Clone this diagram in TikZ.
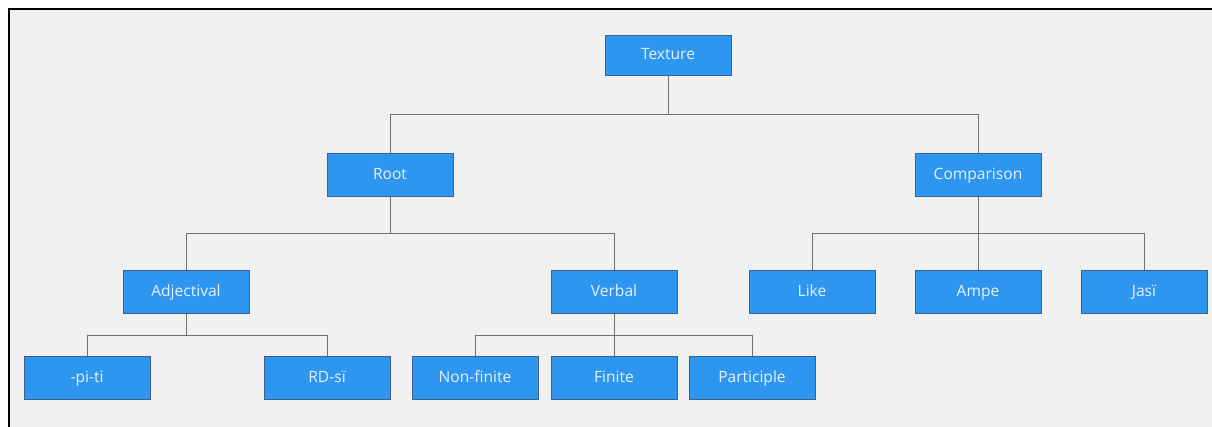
\documentclass[tikz,border=0pt]{standalone}
\usepackage{fontspec}
\setmainfont{Open Sans}
\definecolor{boxblue}{RGB}{46,150,238}
\definecolor{boxline}{RGB}{58,98,140}
\definecolor{boxtext}{RGB}{228,242,255}
\definecolor{canvas}{RGB}{240,240,240}
\definecolor{wiregray}{RGB}{112,112,112}
\tikzset{
  box/.style={draw=boxline, fill=boxblue, text=boxtext, line width=0.6pt, minimum width=3.78cm, minimum height=1.29cm, inner sep=0pt, text height=11pt, text depth=3pt, font=\fontsize{13.3}{15}\selectfont},
  wire/.style={draw=wiregray, line width=0.8pt}
}
\begin{document}
\begin{tikzpicture}[x=0.03cm, y=-0.03cm]
        \path[use as bounding box, fill=white] (0,0) rectangle (1212,427);
        \fill[canvas] (9,9) rectangle (1212,427);
        \draw[line width=1.7pt] (9,427) -- (9,9) -- (1212,9);

        \node[box, minimum height=1.2cm] (texture) at (668,55) {Texture};

        \node[box] (root) at (390,175) {Root};
        \node[box] (comparison) at (978,175) {Comparison};

        \node[box] (adjectival) at (186,292) {Adjectival};
        \node[box] (verbal) at (614,292) {Verbal};
        \node[box] (like) at (812,292) {Like};
        \node[box] (ampe) at (978,292) {Ampe};
        \node[box] (jasi) at (1144,292) {Jasï};

        \node[box] (piti) at (87,378) {-pi-ti};
        \node[box] (rdsi) at (327,378) {RD-sï};
        \node[box] (nonfinite) at (475,378) {Non-finite};
        \node[box] (finite) at (614,378) {Finite};
        \node[box] (participle) at (752,378) {Participle};

        \draw[wire] (texture.south) -- (texture.south |- 0,114) -| (root.north);
        \draw[wire] (texture.south) -- (texture.south |- 0,114) -| (comparison.north);

        \draw[wire] (root.south) -- (root.south |- 0,233) -| (adjectival.north);
        \draw[wire] (root.south) -- (root.south |- 0,233) -| (verbal.north);

        \draw[wire] (comparison.south) -- (comparison.south |- 0,233) -| (like.north);
        \draw[wire] (comparison.south) -- (ampe.north);
        \draw[wire] (comparison.south) -- (comparison.south |- 0,233) -| (jasi.north);

        \draw[wire] (adjectival.south) -- (adjectival.south |- 0,335) -| (piti.north);
        \draw[wire] (adjectival.south) -- (adjectival.south |- 0,335) -| (rdsi.north);

        \draw[wire] (verbal.south) -- (verbal.south |- 0,335) -| (nonfinite.north);
        \draw[wire] (verbal.south) -- (finite.north);
        \draw[wire] (verbal.south) -- (verbal.south |- 0,335) -| (participle.north);
    \end{tikzpicture}
\end{document}
